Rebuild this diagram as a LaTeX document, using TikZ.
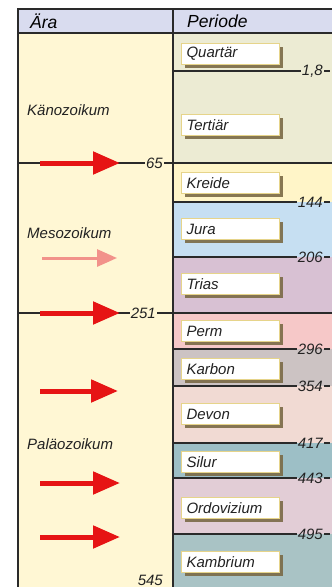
\documentclass[tikz,border=0pt]{standalone}
\usepackage{fontspec}
\setmainfont{Liberation Sans}
\usetikzlibrary{arrows.meta,shadows}
\definecolor{eraBG}{HTML}{FFF7D4}
\definecolor{headBG}{HTML}{D9DCEF}
\definecolor{kaeno}{HTML}{ECEBD3}
\definecolor{kreide}{HTML}{FFF5C8}
\definecolor{jura}{HTML}{C6DFF2}
\definecolor{trias}{HTML}{D8C1D3}
\definecolor{perm}{HTML}{F6C8C8}
\definecolor{karbon}{HTML}{CCC3C3}
\definecolor{devon}{HTML}{F1DAD3}
\definecolor{silur}{HTML}{9DBFC6}
\definecolor{ordo}{HTML}{E2CDD6}
\definecolor{kambr}{HTML}{A9C3C5}
\definecolor{boxgold}{HTML}{E6D48A}
\definecolor{shadowbrown}{HTML}{7A6A46}
\definecolor{linedark}{HTML}{2A2A2A}
\definecolor{textdark}{HTML}{222222}
\definecolor{arrowred}{HTML}{E61414}
\definecolor{arrowpale}{HTML}{F2928A}

\begin{document}
\begin{tikzpicture}[x=1pt, y=-1pt,
    periode/.style={anchor=west, draw=boxgold, line width=1pt, fill=white,
      minimum height=21pt, text width=88pt, inner xsep=5pt, inner ysep=0pt,
      align=left, text=textdark, font=\fontsize{15}{17}\selectfont\itshape,
      drop shadow={shadow xshift=3pt, shadow yshift=-3pt, fill=shadowbrown, opacity=0.9}},
    zahl/.style={inner sep=1pt, text=textdark, font=\fontsize{15}{17}\selectfont\itshape},
    aera/.style={anchor=west, inner sep=0pt, text=textdark, font=\fontsize{15}{17}\selectfont\itshape},
    kopf/.style={anchor=west, inner sep=0pt, text=black, font=\fontsize{17.5}{20}\selectfont\itshape},
    grenze/.style={line width=1.3pt, draw=linedark},
    pfeil/.style={draw=arrowred, line width=5pt, -{Triangle[length=27pt,width=22pt]}},
    pfeilhell/.style={draw=arrowpale, line width=3pt, -{Triangle[length=20pt,width=17pt]}}]
  \useasboundingbox (0,0) rectangle (332,587);
  \fill[white] (0,0) rectangle (332,587);
  % Hintergrund
  \fill[headBG] (18,9) rectangle (332,33);
  \fill[eraBG] (18,33) rectangle (173,587);
  \foreach \ya/\yb/\farbe in {33/163/kaeno, 163/202/kreide, 202/257/jura, 257/313/trias,
      313/349/perm, 349/386/karbon, 386/443/devon, 443/478/silur, 478/534/ordo, 534/587/kambr}
    \fill[\farbe] (173,\ya) rectangle (332,\yb);
  % Rahmen
  \draw[grenze] (18,587) -- (18,9) -- (332,9);
  \draw[grenze] (18,33) -- (332,33);
  \draw[grenze] (173,9) -- (173,587);
  % Kopfzeile
  \node[kopf] (aera) at (30,21) {Ära};
  \node[kopf] (periode) at (187,21) {Periode};
  % Aeren
  \node[aera] (kaenozoikum) at (27,110) {Känozoikum};
  \node[aera] (mesozoikum) at (27,233) {Mesozoikum};
  \node[aera] (palaeozoikum) at (27,444) {Paläozoikum};
  % Grenzen
  \node[zahl, anchor=east] (n65) at (164,163) {65};
  \draw[grenze] (18,163) -- (n65.west);
  \draw[grenze] (n65.east) -- (332,163);
  \node[zahl, anchor=east] (n251) at (157,313) {251};
  \draw[grenze] (18,313) -- (n251.west);
  \draw[grenze] (n251.east) -- (332,313);
  \foreach \y/\zahl/\name in {71/{1,8}/n1, 202/144/n144, 257/206/n206, 349/296/n296,
      386/354/n354, 443/417/n417, 478/443/n443, 534/495/n495} {
    \node[zahl, anchor=east] (\name) at (324,\y) {\zahl};
    \draw[grenze] (173,\y) -- (\name.west);
    \draw[grenze] (\name.east) -- (330,\y);
  }
  \node[zahl, anchor=east] (n545) at (164,580) {545};
  % Perioden
  \node[periode] (quartaer) at (181,54) {Quartär};
  \node[periode] (tertiaer) at (181,125) {Tertiär};
  \node[periode] (kreide) at (181,183) {Kreide};
  \node[periode] (jura) at (181,229) {Jura};
  \node[periode] (trias) at (181,284) {Trias};
  \node[periode] (perm) at (181,331) {Perm};
  \node[periode] (karbon) at (181,369) {Karbon};
  \node[periode] (devon) at (181,414) {Devon};
  \node[periode] (silur) at (181,462) {Silur};
  \node[periode] (ordovizium) at (181,508) {Ordovizium};
  \node[periode] (kambrium) at (181,562) {Kambrium};
  % Pfeile
  \coordinate (p1a) at (40,163);  \coordinate (p1b) at (120,163);
  \coordinate (p2a) at (42,258);  \coordinate (p2b) at (117,258);
  \coordinate (p3a) at (40,313);  \coordinate (p3b) at (120,313);
  \coordinate (p4a) at (40,391);  \coordinate (p4b) at (118,391);
  \coordinate (p5a) at (40,483);  \coordinate (p5b) at (120,483);
  \coordinate (p6a) at (40,537);  \coordinate (p6b) at (120,537);
  \draw[pfeil] (p1a) -- (p1b);
  \draw[pfeilhell] (p2a) -- (p2b);
  \draw[pfeil] (p3a) -- (p3b);
  \draw[pfeil] (p4a) -- (p4b);
  \draw[pfeil] (p5a) -- (p5b);
  \draw[pfeil] (p6a) -- (p6b);
\end{tikzpicture}
\end{document}
